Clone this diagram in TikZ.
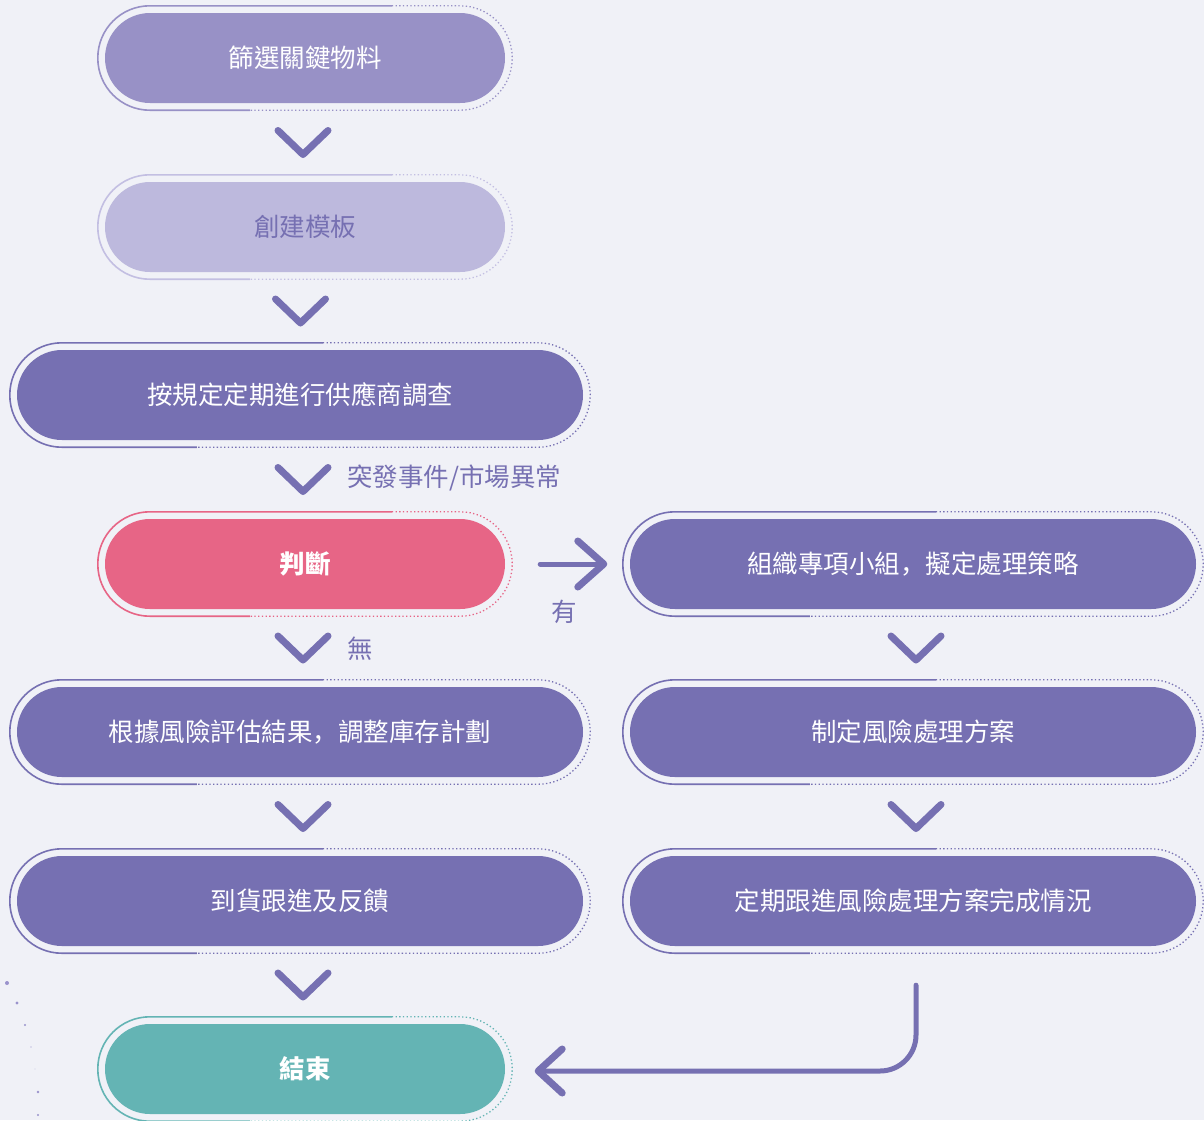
\documentclass[tikz,border=0pt]{standalone}
\usepackage{fontspec}
\setmainfont{Noto Sans CJK TC}
\newfontfamily\scfont{Noto Sans CJK SC}
\usetikzlibrary{calc}
\definecolor{bgc}{HTML}{F0F1F7}
\definecolor{mainp}{HTML}{7670B2}
\definecolor{lightp}{HTML}{9891C6}
\definecolor{paleP}{HTML}{BDB9DD}
\definecolor{paleLine}{HTML}{C3BFE2}
\definecolor{pinkc}{HTML}{E76586}
\definecolor{tealc}{HTML}{64B4B4}
\definecolor{dotc}{HTML}{9A93CC}
\tikzset{
  pill/.style={rectangle, rounded corners=45pt, minimum height=90pt, inner sep=0pt,
    text=white, font=\fontsize{25.5}{30}\selectfont},
  narrowpill/.style={pill, minimum width=400pt},
  widepill/.style={pill, minimum width=566pt},
  chev/.style={draw=mainp, line width=7pt, line cap=round, line join=round},
  conn/.style={draw=mainp, line width=5pt, line cap=round, line join=round},
  lbl/.style={text=mainp, font=\fontsize{25.5}{30}\selectfont, inner sep=0pt},
  solidring/.style={line width=1.6pt, rounded corners=52pt},
  dotring/.style={line width=1.3pt, rounded corners=52pt, dash pattern=on 1.3pt off 2.4pt},
}
% #1 node name, #2 top solid length, #3 bottom solid length, #4 colour
\newcommand\ringaround[4]{%
  \draw[solidring, #4] ($(#1.north west)+(#2-7,-7)$) -- ($(#1.north west)+(-7,-7)$)
     -- ($(#1.south west)+(-7,7)$) -- ($(#1.south west)+(#3-7,7)$);
  \draw[dotring, #4] ($(#1.north west)+(#2-7,-7)$) -- ($(#1.north east)+(7,-7)$)
     -- ($(#1.south east)+(7,7)$) -- ($(#1.south west)+(#3-7,7)$);
}
\newcommand\chevat[1]{%
  \draw[chev] ($#1+(-25,-12)$) -- ($#1+(0,12)$) -- ($#1+(25,-12)$);
}
\begin{document}
\begin{tikzpicture}[x=1pt,y=-1pt]
\path[fill=bgc,use as bounding box] (0,0) rectangle (1204,1120);

% nodes
\node[narrowpill, fill=lightp] (n1) at (305,58) {篩選關鍵物料};
\node[narrowpill, fill=paleP, text=mainp] (n2) at (305,227) {創建模板};
\node[widepill, fill=mainp] (n3) at (300,395) {按規定定期進行供應商調查};
\node[narrowpill, fill=pinkc, font=\fontsize{25.5}{30}\selectfont\bfseries] (n4) at (305,564) {判斷};
\node[widepill, fill=mainp] (r1) at (913,564) {組織專項小組{\scfont ，}擬定處理策略};
\node[widepill, fill=mainp] (n5) at (300,732) {根據風險評估結果{\scfont ，}調整庫存計劃};
\node[widepill, fill=mainp] (r2) at (913,732) {制定風險處理方案};
\node[widepill, fill=mainp] (n6) at (300,901) {到貨跟進及反饋};
\node[widepill, fill=mainp] (r3) at (913,901) {定期跟進風險處理方案完成情況};
\node[narrowpill, fill=tealc, font=\fontsize{25.5}{30}\selectfont\bfseries] (n7) at (305,1069) {結束};

% outer rings
\ringaround{n1}{294}{152}{lightp}
\ringaround{n2}{294}{152}{paleLine}
\ringaround{n3}{313}{187}{mainp}
\ringaround{n4}{294}{152}{pinkc}
\ringaround{r1}{313}{187}{mainp}
\ringaround{n5}{313}{187}{mainp}
\ringaround{r2}{313}{187}{mainp}
\ringaround{n6}{313}{187}{mainp}
\ringaround{r3}{313}{187}{mainp}
\ringaround{n7}{294}{152}{tealc}

% chevrons between nodes
\coordinate (c12) at ($(n1)!0.5!(n2)+(-2,0)$);
\coordinate (c23) at ($(n2)!0.5!(n3)+(-2,0)$);
\coordinate (c34) at ($(n3)!0.5!(n4)+(0.5,0)$);
\coordinate (c45) at ($(n4)!0.5!(n5)+(0.5,0)$);
\coordinate (c56) at ($(n5)!0.5!(n6)+(3,0)$);
\coordinate (c67) at ($(n6)!0.5!(n7)+(0.5,0)$);
\coordinate (cr12) at ($(r1)!0.5!(r2)+(3,0)$);
\coordinate (cr23) at ($(r2)!0.5!(r3)+(3,0)$);
\chevat{(c12)}
\chevat{(c23)}
\chevat{(c34)}
\chevat{(c45)}
\chevat{(c56)}
\chevat{(c67)}
\chevat{(cr12)}
\chevat{(cr23)}

% labels
\node[lbl, anchor=west] (lblA) at (347,478) {突發事件/市場異常};
\node[lbl, anchor=west] (lblB) at (347,649) {無};
\node[lbl] (lblC) at (564,612) {有};

% n4 -> r1
\coordinate (tipR) at ($(r1.west)+(-26,0)$);
\draw[conn] ($(n4.east)+(35,0)$) -- (tipR);
\draw[chev] ($(tipR)+(-26,-23)$) -- (tipR) -- ($(tipR)+(-26,23)$);

% r3 -> n7
\coordinate (tipE) at ($(n7.east)+(33,2)$);
\draw[conn, rounded corners=36pt] ($(r3.south)+(3,39)$) |- (tipE);
\draw[chev] ($(tipE)+(24,-22)$) -- (tipE) -- ($(tipE)+(24,22)$);

% decorative dots
\fill[dotc] (7,983) circle (2pt);
\fill[dotc] (17,1003) circle (1.6pt);
\fill[dotc] (25,1025) circle (1.2pt);
\fill[dotc] (31,1047) circle (0.7pt);
\fill[dotc] (35,1069) circle (0.4pt);
\fill[dotc] (38,1092) circle (1.4pt);
\fill[dotc] (38,1115) circle (1.2pt);
\end{tikzpicture}
\end{document}
